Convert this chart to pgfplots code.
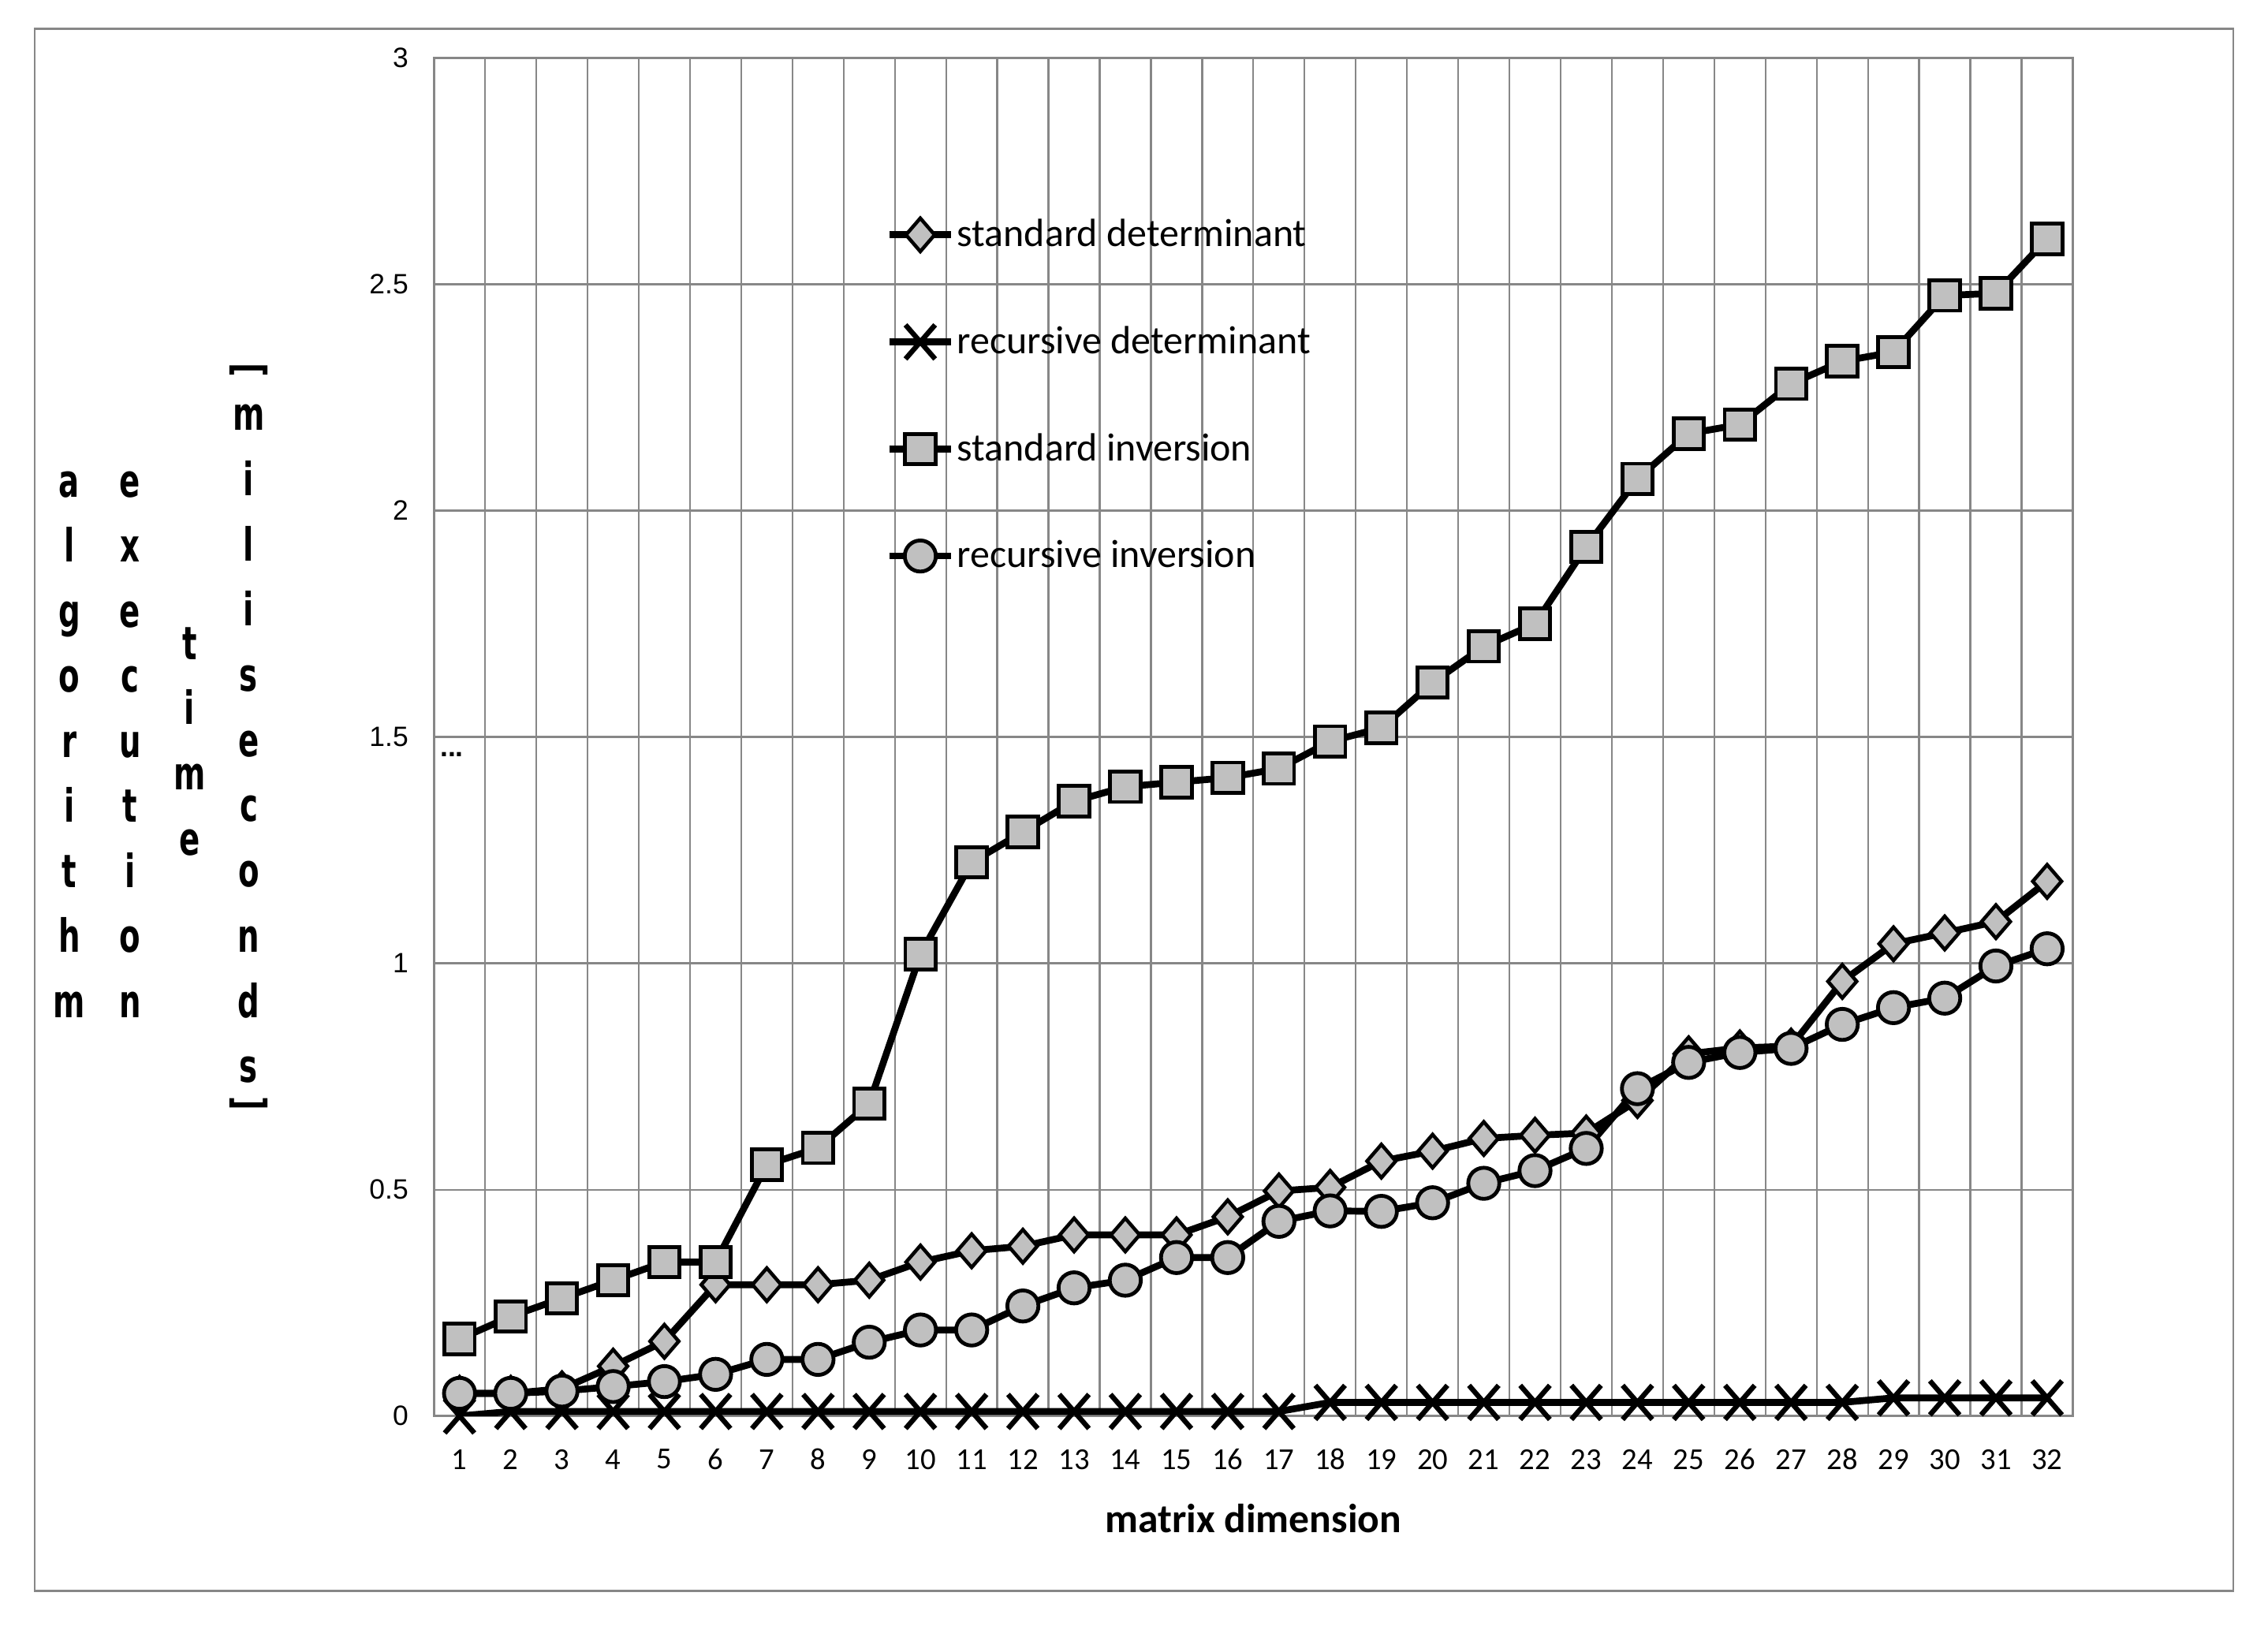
\documentclass[border=0pt]{standalone}
\usepackage{fontspec}
\setmainfont{Carlito}
\newfontfamily\tickfont{Liberation Sans}
\newfontfamily\labfont{DejaVu Sans}
\usepackage{pgfplots}
\pgfplotsset{compat=1.18}
\definecolor{gridgray}{HTML}{878787}
\definecolor{markfill}{HTML}{C0C0C0}

\pgfplotstableread{
n stddet recdet stdinv recinv
1  0.05 0.00 0.17 0.05
2  0.05 0.01 0.22 0.05
3  0.06 0.01 0.26 0.055
4  0.11 0.01 0.30 0.065
5  0.165 0.01 0.34 0.076
6  0.29 0.01 0.34 0.092
7  0.29 0.01 0.555 0.125
8  0.29 0.01 0.592 0.125
9  0.30 0.01 0.69 0.163
10 0.34 0.01 1.02 0.19
11 0.365 0.01 1.223 0.19
12 0.375 0.01 1.29 0.243
13 0.40 0.01 1.358 0.283
14 0.40 0.01 1.39 0.30
15 0.40 0.01 1.40 0.35
16 0.44 0.01 1.41 0.35
17 0.497 0.01 1.43 0.43
18 0.505 0.03 1.49 0.453
19 0.563 0.03 1.52 0.452
20 0.585 0.03 1.62 0.471
21 0.613 0.03 1.70 0.514
22 0.62 0.03 1.75 0.542
23 0.625 0.03 1.92 0.591
24 0.697 0.03 2.07 0.723
25 0.80 0.03 2.17 0.781
26 0.813 0.03 2.19 0.803
27 0.817 0.03 2.28 0.812
28 0.96 0.03 2.33 0.865
29 1.043 0.04 2.35 0.902
30 1.067 0.04 2.475 0.923
31 1.092 0.04 2.48 0.994
32 1.181 0.04 2.60 1.032
}\data

\begin{document}
\begin{tikzpicture}
\begin{axis}[
    scale only axis,
    width=22.66cm, height=18.78cm,
    xmin=0.5, xmax=32.5, ymin=0, ymax=3,
    xtick={1,...,32},
    ytick={0,0.5,...,3},
    minor xtick={0.5,1.5,...,32.5},
    xmajorgrids=false, xminorgrids=true, ymajorgrids=true,
    grid style={gridgray, line width=0.7pt},
    minor grid style={gridgray, line width=0.7pt},
    axis line style={gridgray, line width=0.8pt},
    major tick length=0pt, minor tick length=0pt,
    tick style={draw=none},
    /pgf/number format/assume math mode=true,
    xticklabel style={font=\fontsize{12}{14}\selectfont, anchor=center, yshift=-0.6cm},
    yticklabel style={font=\tickfont\fontsize{11}{13}\selectfont, anchor=east, xshift=-0.23cm},
    xlabel={matrix dimension},
    xlabel style={font=\fontsize{16}{19}\selectfont\bfseries, at={(axis description cs:0.5,0)}, anchor=center, yshift=-1.42cm},
    legend style={draw=none, fill=none, at={(0.2754,0.7515)}, anchor=west,
        font=\fontsize{15.5}{18}\selectfont, inner sep=0pt, row sep=0.99cm,
        nodes={inner sep=0.03cm}},
    legend cell align=left,
    legend image code/.code={\draw[mark repeat=2,mark phase=2] plot coordinates {(0cm,0cm) (0.43cm,0cm) (0.86cm,0cm)};},
    every axis plot/.append style={line width=2.7pt, black},
]
\addplot[mark=diamond*, mark size=0.23cm, mark options={fill=markfill, line width=1.4pt, xscale=1.15}] table[x=n, y=stddet] {\data};
\addlegendentry{standard determinant}
\addplot[mark=x, mark size=0.29cm, mark options={line width=2pt, yscale=1.15}] table[x=n, y=recdet] {\data};
\addlegendentry{recursive determinant}
\addplot[mark=square*, mark size=0.21cm, mark options={fill=markfill, line width=1.5pt}] table[x=n, y=stdinv] {\data};
\addlegendentry{standard inversion}
\addplot[mark=*, mark size=0.215cm, mark options={fill=markfill, line width=1.5pt}] table[x=n, y=recinv] {\data};
\addlegendentry{recursive inversion}
\end{axis}

% stacked y label
\tikzset{ylab/.style={font=\labfont\bfseries\fontsize{12}{13}\selectfont, inner sep=0pt, anchor=base}}
\foreach \c [count=\i] in {a,l,g,o,r,i,t,h,m}
  \node[ylab] at (-5.04,{9.28+(5-\i)*0.9-0.17}) {\scalebox{1}[1.5]{\c}};
\foreach \c [count=\i] in {e,x,e,c,u,t,i,o,n}
  \node[ylab] at (-4.2,{9.28+(5-\i)*0.9-0.17}) {\scalebox{1}[1.5]{\c}};
\foreach \c [count=\i] in {t,i,m,e}
  \node[ylab] at (-3.38,{9.28+(2.5-\i)*0.9-0.17}) {\scalebox{1}[1.5]{\c}};
\foreach \c [count=\i] in {m,i,l,i,s,e,c,o,n,d,s}
  \node[ylab] at (-2.56,{9.29+(6-\i)*0.902-0.17}) {\scalebox{1}[1.5]{\c}};
\node[ylab, anchor=center] at (-2.56,14.46) {\rotatebox{-90}{\scalebox{1}[1.4]{[}}};
\node[ylab, anchor=center] at (-2.56,4.32) {\rotatebox{-90}{\scalebox{1}[1.4]{]}}};

\node[anchor=west, inner sep=0pt, font=\tickfont\bfseries\fontsize{11}{13}\selectfont] at (0.08,9.15) {...};

% outer frame
\draw[gridgray, line width=0.9pt] (-5.52,-2.42) rectangle (24.88,19.18);
\pgfresetboundingbox
\useasboundingbox (-6,-2.9) rectangle (25.36,19.58);
\end{tikzpicture}
\end{document}
